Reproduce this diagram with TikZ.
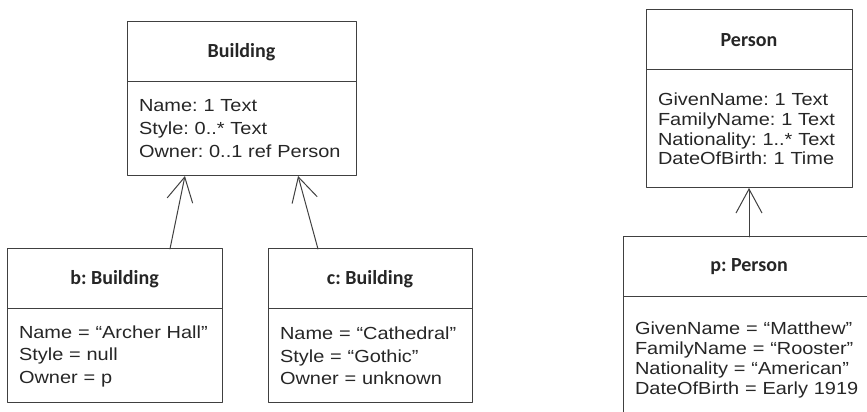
\documentclass[tikz,border=0pt]{standalone}
\usepackage{fontspec}
\setmainfont{Liberation Sans}[FakeStretch=1.14]
\newfontfamily\headfont{Carlito}
\usetikzlibrary{positioning,calc,arrows.meta}
\frenchspacing

\tikzset{
  classhead/.style={draw=black!75, line width=1pt, outer sep=0pt, inner sep=0pt,
    minimum height=60pt, text=black!85, font=\headfont\bfseries\fontsize{20}{24}\selectfont},
  slots/.style={draw=black!75, line width=1pt, outer sep=0pt, inner xsep=12pt, inner ysep=0pt,
    align=left, text=black!85, font=\fontsize{17.5}{#1}\selectfont},
}

\begin{document}
\begin{tikzpicture}[x=1pt, y=1pt, line join=round, line cap=round,
    >={Straight Barb[length=24pt,width=26pt]}]
  \useasboundingbox (0,0) rectangle (867,412);
  \clip (0,0) rectangle (867,412);

  % classes
  \node[classhead, minimum width=229pt] (Building) at (241.5,360) {Building};
  \node[slots=23pt, text width=205pt, minimum height=94pt, below=0pt of Building] (Building-a)
    {Name: 1 Text\\ Style: 0..* Text\\ Owner: 0..1 ref Person};

  \node[classhead, minimum width=206pt] (Person) at (749,372) {Person};
  \node[slots=19.7pt, text width=182pt, minimum height=118pt, below=0pt of Person] (Person-a)
    {GivenName: 1 Text\\ FamilyName: 1 Text\\ Nationality: 1..* Text\\ DateOfBirth: 1 Time};

  % instances
  \node[classhead, minimum width=215pt] (b) at (114.5,133) {b: Building};
  \node[slots=22.5pt, text width=191pt, minimum height=94pt, below=0pt of b] (b-a)
    {Name = “Archer Hall”\\ Style = null\\ Owner = p};

  \node[classhead, minimum width=204pt] (c) at (370,133) {c: Building};
  \node[slots=22.5pt, text width=180pt, minimum height=94pt, below=0pt of c] (c-a)
    {Name = “Cathedral”\\ Style = “Gothic”\\ Owner = unknown};

  \node[classhead, minimum width=252pt] (p) at (749,145) {p: Person};
  \node[slots=19.7pt, text width=228pt, minimum height=126pt, below=0pt of p] (p-a)
    {GivenName = “Matthew”\\ FamilyName = “Rooster”\\ Nationality = “American”\\ DateOfBirth = Early 1919};

  % instance-of arrows
  \begin{scope}[draw=black!75, line width=1pt]
    \draw[->] ($(b.north west)!0.758!(b.north east)$) -- ($(Building-a.south west)!0.253!(Building-a.south east)$);
    \draw[->] ($(c.north west)!0.245!(c.north east)$) -- ($(Building-a.south west)!0.747!(Building-a.south east)$);
    \draw[->] (p) -- (Person-a);
  \end{scope}
\end{tikzpicture}
\end{document}
